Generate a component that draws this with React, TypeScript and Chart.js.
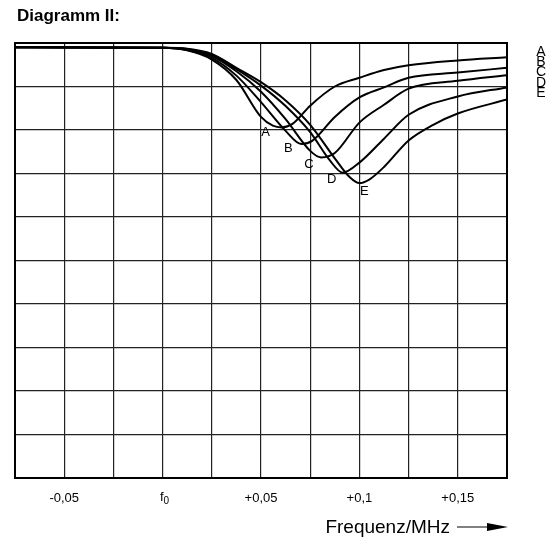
import React, { useEffect, useRef } from "react";
import { Chart, registerables } from "chart.js";

Chart.register(...registerables);

// ---- data ----
const frequencyGrid = [-0.075, -0.05, -0.025, 0, 0.025, 0.05, 0.075, 0.1, 0.125, 0.15, 0.175];
const frequencyTickLabels = ["", "-0,05", "", "f|0", "", "+0,05", "", "+0,1", "", "+0,15", ""];
const levelMin = 0;
const levelMax = 10;
const curveNames = ["A", "B", "C", "D", "E"];

const freqA = [-0.075, 0, 0.0125, 0.025, 0.0375, 0.05, 0.056, 0.0605, 0.066, 0.075, 0.0875, 0.1, 0.1125, 0.125, 0.15, 0.175];
const levelA = [9.9, 9.89, 9.83, 9.62, 9.15, 8.3, 8.1, 8.06, 8.14, 8.56, 9.0, 9.2, 9.38, 9.49, 9.6, 9.67];

const freqB = [-0.075, 0, 0.0125, 0.025, 0.0375, 0.05, 0.0625, 0.0705, 0.076, 0.0875, 0.1, 0.1125, 0.125, 0.15, 0.175];
const levelB = [9.9, 9.89, 9.84, 9.66, 9.25, 8.64, 7.98, 7.68, 7.75, 8.3, 8.75, 8.98, 9.2, 9.32, 9.43];

const freqC = [-0.075, 0, 0.0125, 0.025, 0.0375, 0.05, 0.0625, 0.075, 0.0805, 0.0875, 0.1, 0.1125, 0.125, 0.15, 0.175];
const levelC = [9.9, 9.89, 9.85, 9.7, 9.35, 8.88, 8.25, 7.52, 7.37, 7.47, 8.17, 8.58, 8.95, 9.13, 9.26];

const freqD = [-0.075, 0, 0.0125, 0.025, 0.0375, 0.05, 0.0625, 0.075, 0.085, 0.0915, 0.1, 0.1125, 0.125, 0.15, 0.175];
const levelD = [9.9, 9.89, 9.86, 9.72, 9.4, 9.02, 8.55, 7.95, 7.3, 7.02, 7.25, 7.8, 8.35, 8.77, 8.98];

const freqE = [-0.075, 0, 0.0125, 0.025, 0.0375, 0.05, 0.0625, 0.075, 0.0875, 0.095, 0.1, 0.105, 0.1125, 0.125, 0.1375, 0.15, 0.175];
const levelE = [9.9, 9.89, 9.87, 9.75, 9.43, 9.1, 8.68, 8.12, 7.35, 6.92, 6.78, 6.86, 7.15, 7.76, 8.12, 8.38, 8.7];

const curveFreqs = [freqA, freqB, freqC, freqD, freqE];
const curveLevels = [levelA, levelB, levelC, levelD, levelE];

const FONT = '"Liberation Sans", Arial, Helvetica, sans-serif';

// offsets of the inner letters from each curve's minimum (pixels)
const innerLabelOffsets = [
  [-16, 5],
  [-13, 5],
  [-12, 7],
  [-11, 7],
  [5, 8],
];

const extrasPlugin = {
  id: "extras",
  afterDraw(chart: any) {
    const { ctx, chartArea, scales } = chart;
    const { left, top, right, bottom } = chartArea;
    ctx.save();
    // frame
    ctx.strokeStyle = "#000";
    ctx.lineWidth = 2;
    ctx.strokeRect(left, top, right - left, bottom - top);

    ctx.fillStyle = "#000";
    // title
    ctx.font = `bold 17px ${FONT}`;
    ctx.textAlign = "left";
    ctx.textBaseline = "alphabetic";
    ctx.fillText("Diagramm II:", left + 2, top - 22);

    // f0 tick label with subscript
    frequencyTickLabels.forEach((lbl, i) => {
      if (lbl.indexOf("|") < 0) return;
      const [main, sub] = lbl.split("|");
      const xp = scales.x.getPixelForValue(frequencyGrid[i]);
      ctx.font = `13px ${FONT}`;
      ctx.textBaseline = "middle";
      ctx.textAlign = "right";
      ctx.fillText(main, xp + 1, bottom + 19);
      ctx.font = `10px ${FONT}`;
      ctx.textAlign = "left";
      ctx.fillText(sub, xp + 1, bottom + 23);
    });

    // right-side curve names
    ctx.font = `14px ${FONT}`;
    ctx.textAlign = "center";
    ctx.textBaseline = "middle";
    curveNames.forEach((n, i) => {
      ctx.fillText(n, right + 34, top + 9 + i * 10.3);
    });

    // inner letters near minima
    ctx.font = `13px ${FONT}`;
    chart.data.datasets.forEach((ds: any, i: number) => {
      const meta = chart.getDatasetMeta(i);
      let minIdx = 0;
      ds.data.forEach((p: any, j: number) => {
        if (p.y < ds.data[minIdx].y) minIdx = j;
      });
      const el = meta.data[minIdx];
      const [dx, dy] = innerLabelOffsets[i];
      ctx.fillText(curveNames[i], el.x + dx, el.y + dy);
    });

    // axis title with arrow
    ctx.font = `19px ${FONT}`;
    ctx.textAlign = "right";
    ctx.textBaseline = "alphabetic";
    const ty = bottom + 55;
    ctx.fillText("Frequenz/MHz", right - 57, ty);
    const ay = ty - 6;
    ctx.lineWidth = 1;
    ctx.beginPath();
    ctx.moveTo(right - 50, ay);
    ctx.lineTo(right - 15, ay);
    ctx.stroke();
    ctx.beginPath();
    ctx.moveTo(right - 20, ay - 4);
    ctx.lineTo(right + 1, ay);
    ctx.lineTo(right - 20, ay + 4);
    ctx.closePath();
    ctx.fill();
    ctx.restore();
  },
};

export default function App() {
  const ref = useRef<HTMLCanvasElement | null>(null);
  useEffect(() => {
    if (!ref.current) return;
    const datasets = curveNames.map((name, i) => ({
      label: name,
      data: curveFreqs[i].map((f, j) => ({ x: f, y: curveLevels[i][j] })),
      borderColor: "#000",
      borderWidth: 2,
      pointRadius: 0,
      fill: false,
      cubicInterpolationMode: "monotone" as const,
    }));
    const chart = new Chart(ref.current, {
      type: "line",
      data: { datasets },
      options: {
        animation: false,
        responsive: false,
        layout: { padding: { left: 15, top: 43, right: 41, bottom: 0 } },
        plugins: { legend: { display: false }, tooltip: { enabled: false } },
        scales: {
          x: {
            type: "linear",
            min: frequencyGrid[0],
            max: frequencyGrid[frequencyGrid.length - 1],
            afterBuildTicks: (scale: any) => {
              scale.ticks = frequencyGrid.map((v) => ({ value: v }));
            },
            afterFit: (scale: any) => {
              scale.height = 67;
            },
            ticks: {
              autoSkip: false,
              maxRotation: 0,
              padding: 13,
              color: "#000",
              font: { family: FONT, size: 13 },
              callback: (_v: any, idx: number) => {
                const l = frequencyTickLabels[idx];
                return l.indexOf("|") >= 0 ? "" : l;
              },
            },
            grid: { color: "#222", lineWidth: 1.2, drawTicks: false },
            border: { display: false },
          },
          y: {
            min: levelMin,
            max: levelMax,
            ticks: { display: false, stepSize: 1 },
            afterFit: (scale: any) => {
              scale.width = 0;
            },
            grid: { color: "#222", lineWidth: 1.2, drawTicks: false },
            border: { display: false },
          },
        },
      },
      plugins: [extrasPlugin],
    });
    return () => chart.destroy();
  }, []);
  return (
    <div style={{ position: "fixed", left: 0, top: 0, width: 548, height: 545, background: "#fff" }}>
      <canvas ref={ref} width={548} height={545} style={{ display: "block" }} />
    </div>
  );
}
